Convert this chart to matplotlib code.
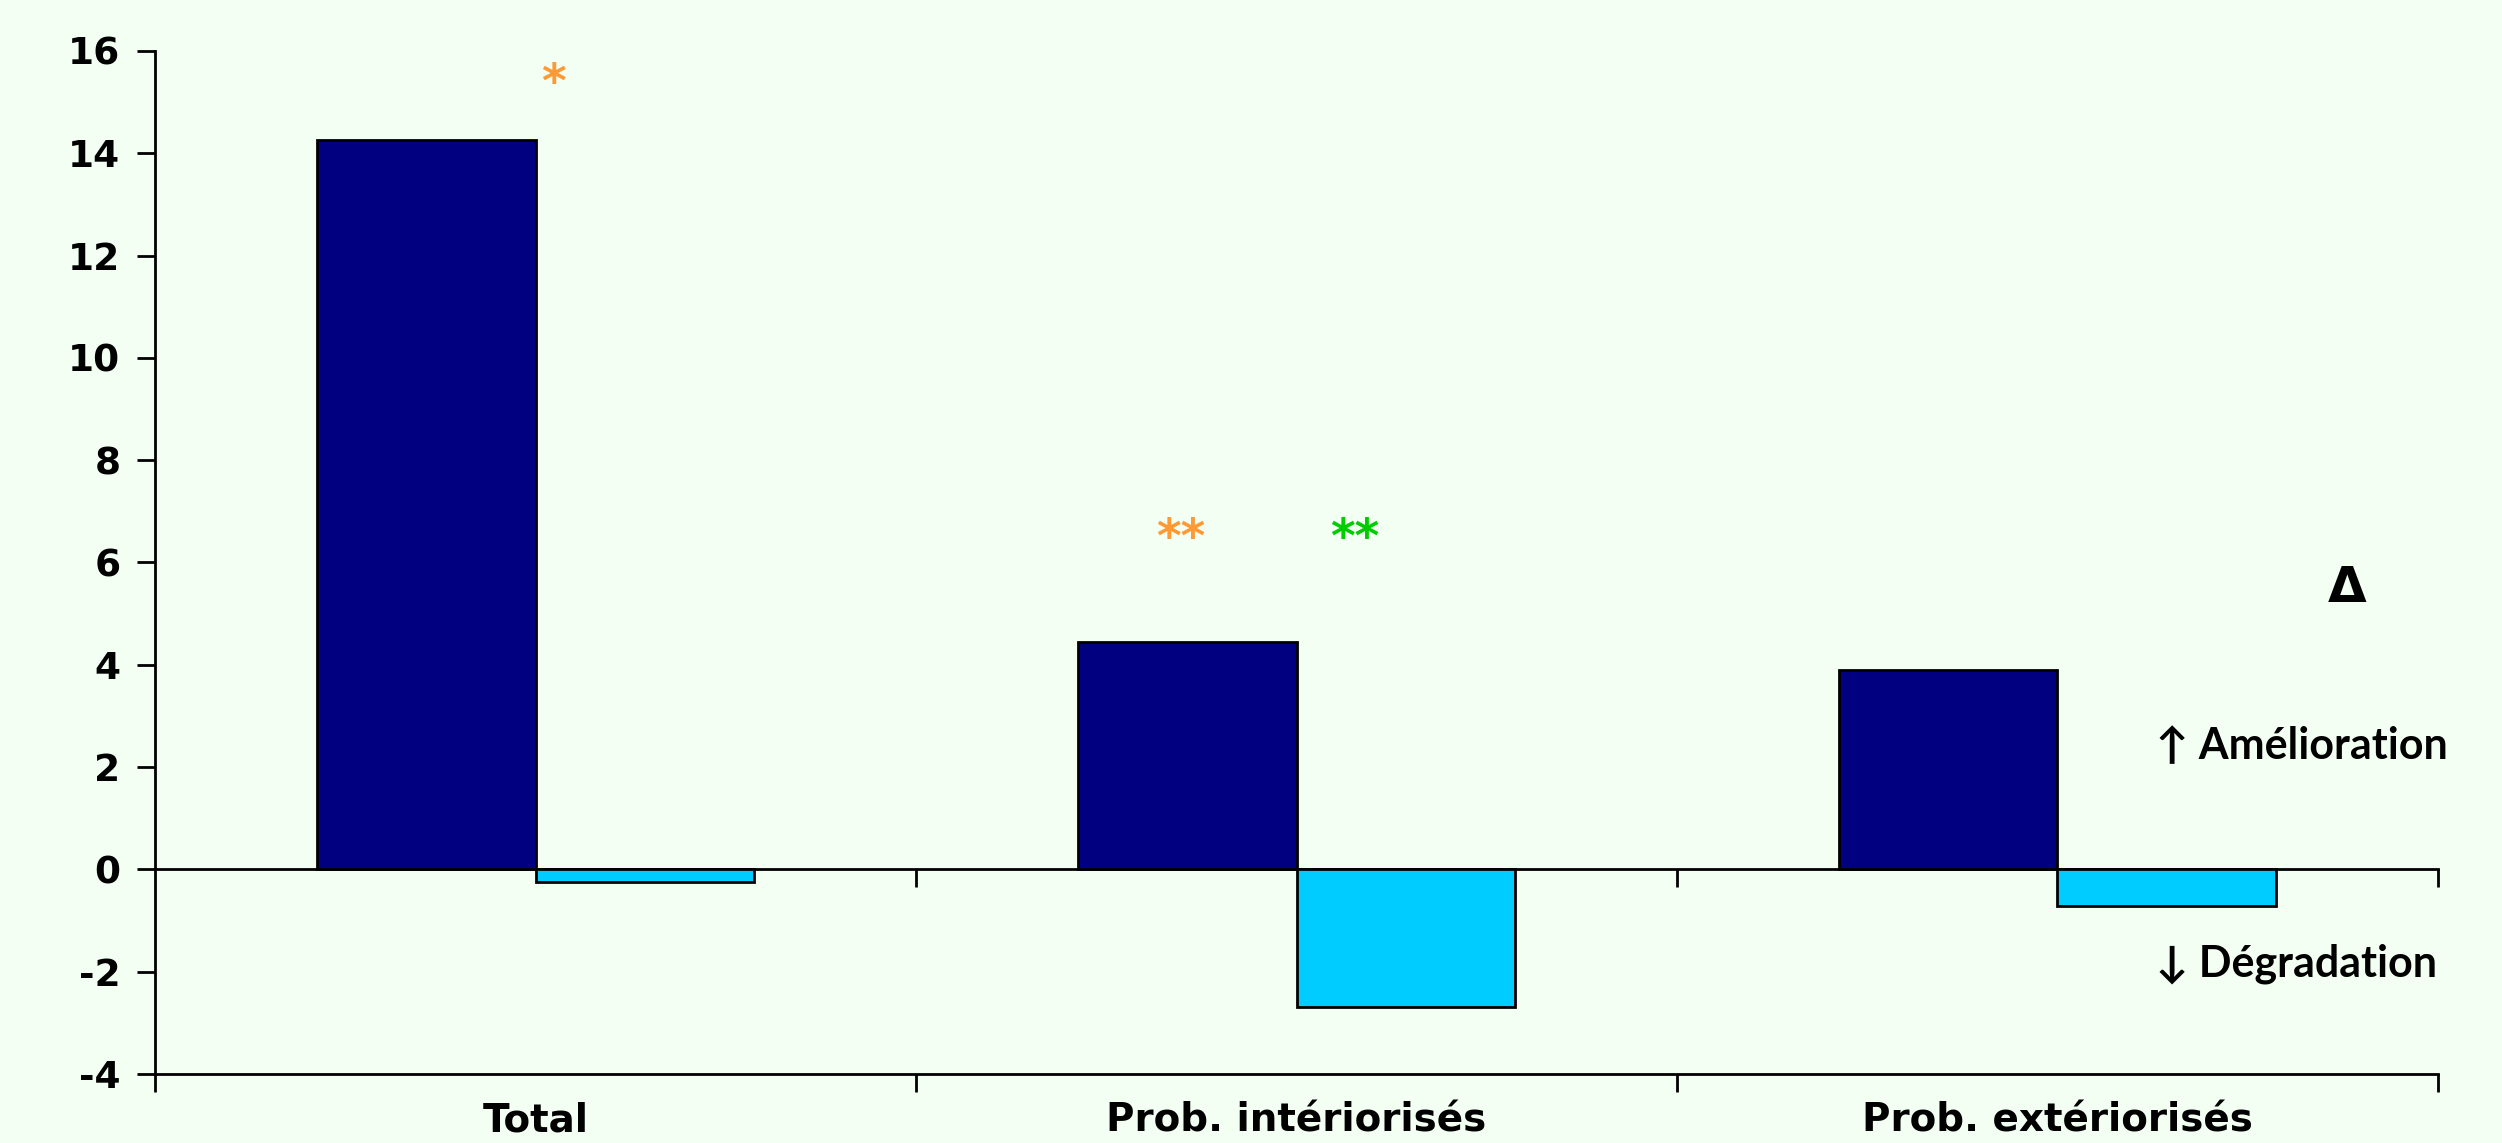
import matplotlib
matplotlib.use("Agg")
import matplotlib.pyplot as plt
import numpy as np

categories = ["Total", "Prob. intériorisés", "Prob. extériorisés"]
series_a = [14.25, 4.45, 3.9]      # dark navy
series_b = [-0.25, -2.7, -0.72]    # light blue
yticks = [-4, -2, 0, 2, 4, 6, 8, 10, 12, 14, 16]

BG = "#F2FFF2"
DARK = "#000080"
LIGHT = "#00CCFF"
ORANGE = "#FF9933"
GREEN = "#00CC00"

plt.rcParams['font.family'] = ['Lato', 'DejaVu Sans']

fig = plt.figure(figsize=(25.02, 11.43), dpi=100, facecolor=BG)
ax = fig.add_axes([0.062, 0.0604, 0.9124, 0.895])
ax.set_facecolor(BG)

x = np.arange(len(categories)) + 0.5
w = 0.287
ax.bar(x - w / 2, series_a, width=w, color=DARK, edgecolor="black", linewidth=2, zorder=3)
ax.bar(x + w / 2, series_b, width=w, color=LIGHT, edgecolor="black", linewidth=2, zorder=3)

ax.set_xlim(0, 3)
ax.set_ylim(-4, 16)

for s in ["top", "right"]:
    ax.spines[s].set_visible(False)
for s in ["left", "bottom"]:
    ax.spines[s].set_linewidth(2)

ax.set_yticks(yticks)
ax.set_yticklabels([str(v) for v in yticks], fontsize=27, fontweight="bold",
                   family=['DejaVu Sans'])
ax.tick_params(axis="y", direction="out", length=13, width=2, pad=12)

# bottom axis: boundary ticks, labels at centers
ax.set_xticks([0, 1, 2, 3])
ax.set_xticklabels([])
ax.set_xticks(x, minor=True)
ax.set_xticklabels(categories, minor=True, fontsize=28, fontweight="bold",
                   family=['DejaVu Sans'])
ax.tick_params(axis="x", which="major", direction="out", length=13, width=2)
ax.tick_params(axis="x", which="minor", length=0, pad=20)

# zero axis with boundary ticks
sec = ax.secondary_xaxis(0.2)
sec.set_xticks([1, 2, 3])
sec.set_xticklabels([])
sec.spines["bottom"].set_linewidth(2)
sec.tick_params(axis="x", direction="out", length=13, width=2)

# significance stars
ax.text(0.524, 15.35, "*", color=ORANGE, fontsize=34, fontweight="bold", ha="center", va="center",
        family=['DejaVu Sans'])
ax.text(1.348, 6.45, "**", color=ORANGE, fontsize=34, fontweight="bold", ha="center", va="center",
        family=['DejaVu Sans'])
ax.text(1.577, 6.45, "**", color=GREEN, fontsize=34, fontweight="bold", ha="center", va="center",
        family=['DejaVu Sans'])

# annotations
ax.text(2.88, 5.5, "Δ", fontsize=36, fontweight="bold", ha="center", va="center",
        family=['DejaVu Sans'])
ax.text(2.63, 2.4, "↑ Amélioration", fontsize=31, fontweight="bold", ha="left", va="center",
        family=['Lato', 'DejaVu Sans'], clip_on=False)
ax.text(2.63, -1.84, "↓ Dégradation", fontsize=31, fontweight="bold", ha="left", va="center",
        family=['Lato', 'DejaVu Sans'], clip_on=False)

fig.savefig("out.png", dpi=100, facecolor=BG)
